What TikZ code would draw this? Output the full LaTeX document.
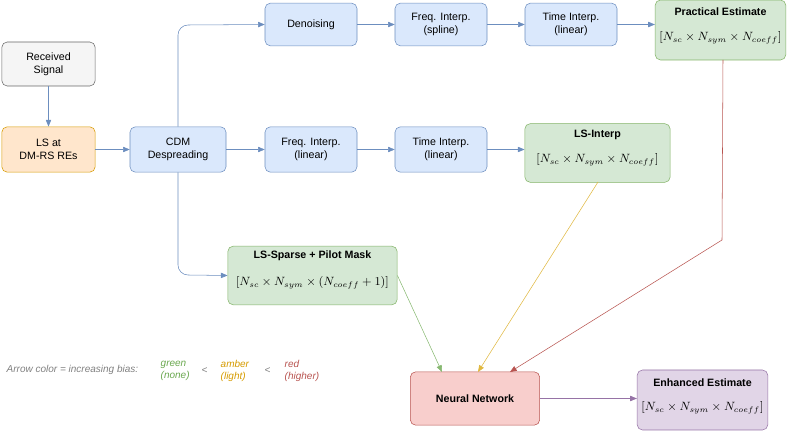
\documentclass[tikz,border=0pt]{standalone}
\usepackage{fontspec}
\setmainfont{Liberation Sans}
\usetikzlibrary{arrows.meta}
\definecolor{bfill}{HTML}{DAE8FC}\definecolor{bdraw}{HTML}{6C8EBF}
\definecolor{gfill}{HTML}{D5E8D4}\definecolor{gdraw}{HTML}{82B366}
\definecolor{ofill}{HTML}{FFE6CC}\definecolor{odraw}{HTML}{D79B00}
\definecolor{rfill}{HTML}{F8CECC}\definecolor{rdraw}{HTML}{B85450}
\definecolor{pfill}{HTML}{E1D5E7}\definecolor{pdraw}{HTML}{9673A6}
\definecolor{sfill}{HTML}{F5F5F5}\definecolor{sdraw}{HTML}{666666}
\definecolor{amb}{HTML}{E0B840}\definecolor{legg}{HTML}{6AA84F}\definecolor{lega}{HTML}{D69B00}\definecolor{legr}{HTML}{B85450}
\begin{document}
\begin{tikzpicture}[x=0.75pt,y=-0.75pt,font=\fontsize{8}{9.5}\selectfont,
 box/.style={draw,rounded corners=4pt,align=center,inner sep=0pt},
 bl/.style={box,fill=bfill,draw=bdraw},
 gr/.style={box,fill=gfill,draw=gdraw},
 arr/.style={-{Triangle[length=5pt,width=4pt]},draw=bdraw},
 lg/.style={font=\fontsize{7.5}{9}\selectfont\itshape,align=left,anchor=west}]
\useasboundingbox (0,0) rectangle (801,431);
\newcommand{\bx}[6]{\node[#1,minimum width=#4*0.75pt,minimum height=#5*0.75pt] (#6) at (#2,#3) {};}
\node[box,fill=sfill,draw=sdraw,minimum width=70pt,minimum height=33pt] (rs) at (48.5,64) {Received\\Signal};
\node[box,fill=ofill,draw=odraw,minimum width=70pt,minimum height=34pt] (ls) at (48.5,149.5) {LS at\\DM-RS REs};
\node[bl,minimum width=72pt,minimum height=34pt] (cdm) at (178,149.5) {CDM\\Despreading};
\node[bl,minimum width=69pt,minimum height=32pt] (den) at (311,24.5) {Denoising};
\node[bl,minimum width=69pt,minimum height=32pt] (fs) at (441,24.5) {Freq. Interp.\\(spline)};
\node[bl,minimum width=69pt,minimum height=32pt] (ts) at (571,24.5) {Time Interp.\\(linear)};
\node[gr,minimum width=98pt,minimum height=45pt] (pe) at (720.5,30) {};
\node[font=\fontsize{8}{9.5}\selectfont\bfseries] at (720.5,12) {Practical Estimate};
\node at (720.5,38) {\small$[N_{sc}\times N_{sym}\times N_{coeff}]$};
\node[bl,minimum width=69pt,minimum height=34pt] (fl) at (311,149.5) {Freq. Interp.\\(linear)};
\node[bl,minimum width=69pt,minimum height=34pt] (tl) at (441,149.5) {Time Interp.\\(linear)};
\node[gr,minimum width=109pt,minimum height=44pt] (li) at (597.5,153) {};
\node[font=\fontsize{8}{9.5}\selectfont\bfseries] at (597.5,135) {LS-Interp};
\node at (597.5,160) {\small$[N_{sc}\times N_{sym}\times N_{coeff}]$};
\node[gr,minimum width=127pt,minimum height=44pt] (sp) at (312.5,275.5) {};
\node[font=\fontsize{8}{9.5}\selectfont\bfseries] at (312.5,256) {LS-Sparse + Pilot Mask};
\node at (312.5,283) {\small$[N_{sc}\times N_{sym}\times (N_{coeff}+1)]$};
\node[box,fill=rfill,draw=rdraw,minimum width=97pt,minimum height=40pt,font=\fontsize{8}{9.5}\selectfont\bfseries] (nn) at (475,398.5) {Neural Network};
\node[box,fill=pfill,draw=pdraw,minimum width=98pt,minimum height=45pt] (ee) at (702.5,400) {};
\node[font=\fontsize{8}{9.5}\selectfont\bfseries] at (702.5,383) {Enhanced Estimate};
\node at (702.5,408) {\small$[N_{sc}\times N_{sym}\times N_{coeff}]$};
\draw[arr] (rs) -- (ls);
\draw[arr] (ls) -- (cdm);
\draw[arr] (cdm) -- (fl);
\draw[arr] (fl) -- (tl);
\draw[arr] (tl) -- (li.west|-tl);
\draw[arr] (cdm.north) -- (178,35) to[out=90,in=180] (188,25) -- (den.west);
\draw[arr] (cdm.south) -- (178,265) to[out=-90,in=180] (188,275) -- (sp.west);
\draw[arr] (den) -- (fs);
\draw[arr] (fs) -- (ts);
\draw[arr] (ts) -- (pe.west|-ts);
\draw[-{Triangle[length=5pt,width=4pt]},draw=legg!80] (sp.east) -- (442,372);
\draw[-{Triangle[length=5pt,width=4pt]},draw=amb] (598,182) -- (478,372);
\draw[-{Triangle[length=5pt,width=4pt]},draw=rdraw] (723,60) -- (722,240) -- (510,372);
\draw[-{Triangle[length=5pt,width=4pt]},draw=pdraw] (nn) -- (ee.west|-nn);
\node[lg,text=gray] at (2,370) {Arrow color = increasing bias:};
\node[lg,text=legg] at (156,371) {green\\(none)};
\node[lg,text=gray] at (197,371) {<};
\node[lg,text=lega] at (216,371) {amber\\(light)};
\node[lg,text=gray] at (260,371) {<};
\node[lg,text=legr] at (280,371) {red\\(higher)};
\end{tikzpicture}
\end{document}
